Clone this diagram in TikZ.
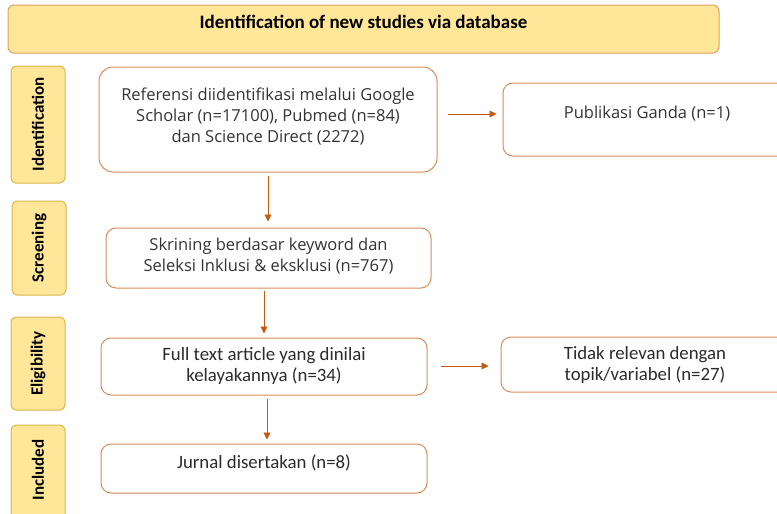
\documentclass[tikz,border=0pt]{standalone}
\usepackage{fontspec}
\setmainfont{Open Sans}
\newfontfamily\calib{Carlito}
\usetikzlibrary{arrows.meta}
\definecolor{boxline}{HTML}{D98C57}
\definecolor{arrowc}{HTML}{C55A11}
\definecolor{sidefill}{HTML}{FFE699}
\definecolor{sideline}{HTML}{D9B54A}
\definecolor{headline}{HTML}{E0A060}
\definecolor{txt}{HTML}{333333}
\tikzset{
  x=1pt,y=-1pt,
  mainbox/.style={draw=boxline,line width=1pt,rounded corners=10pt,fill=white,inner sep=0pt},
  sidebox/.style={draw=sideline,line width=1pt,rounded corners=5pt,fill=sidefill,inner sep=0pt,rotate=90,
    font=\calib\bfseries\fontsize{17}{18}\selectfont,text=black},
  headbox/.style={draw=headline,line width=1pt,rounded corners=6pt,fill=sidefill,inner sep=0pt},
  flow/.style={draw=arrowc,line width=0.9pt,-{Triangle[length=7pt,width=7pt]}},
  segtext/.style={font=\fontsize{16.5}{21}\selectfont,text=txt,align=center},
  caltext/.style={font=\calib\fontsize{18.8}{21}\selectfont,text=txt!85!black,align=center}
}
\begin{document}
\begin{tikzpicture}
\useasboundingbox (0,0) rectangle (777,514);
% header
\node[headbox,minimum width=711pt,minimum height=48pt] (head) at (363.5,29) {};
\node[font=\calib\bfseries\fontsize{19}{20}\selectfont] (headtxt) at ([yshift=7pt]head.center) {Identification of new studies via database};
% side labels
\node[sidebox,minimum width=117pt,minimum height=54pt] (sid) at (38,124.5) {Identification};
\node[sidebox,minimum width=94pt,minimum height=54pt] (sscr) at (39,248) {Screening};
\node[sidebox,minimum width=93pt,minimum height=54pt] (sel) at (38,363.5) {Eligibility};
\node[sidebox,minimum width=97pt,minimum height=54pt] (sinc) at (38,473.5) {};
\node[font=\calib\bfseries\fontsize{17}{18}\selectfont,rotate=90] (sinctxt) at (38,470) {Included};
% main boxes
\node[mainbox,rounded corners=14pt,minimum width=338pt,minimum height=105pt] (ref) at (268,119.5) {};
\node[segtext] (reftxt) at ([yshift=3.5pt]ref.center) {Referensi diidentifikasi melalui Google\\Scholar (n=17100), Pubmed (n=84)\\dan Science Direct (2272)};
\node[mainbox,minimum width=297pt,minimum height=73pt] (pub) at (651.5,119.5) {};
\node[segtext] (pubtxt) at (647,114) {Publikasi Ganda (n=1)};
\node[mainbox,minimum width=325pt,minimum height=60pt] (skr) at (268.5,258) {};
\node[segtext] (skrtxt) at ([yshift=2pt]skr.center) {Skrining berdasar keyword dan\\Seleksi Inklusi \& eksklusi (n=767)};
\node[mainbox,minimum width=326pt,minimum height=57pt] (ful) at (264,366.5) {};
\node[caltext] (fultxt) at ([yshift=1pt]ful.center) {Full text article yang dinilai\\kelayakannya (n=34)};
\node[mainbox,minimum width=299pt,minimum height=55pt] (tid) at (650.5,364.5) {};
\node[caltext] (tidtxt) at (645,365) {Tidak relevan dengan\\topik/variabel (n=27)};
\node[mainbox,minimum width=326pt,minimum height=49pt] (jur) at (264,468.5) {};
\node[caltext] (jurtxt) at ([yshift=5.5pt]jur.center) {Jurnal disertakan (n=8)};
% arrows
\draw[flow,shorten <=3pt,shorten >=6pt] (ref.south) -- (ref.south |- skr.north);
\draw[flow,shorten <=2pt,shorten >=4pt] (skr.south -| ful.north) -- (ful.north);
\draw[flow,shorten <=3pt,shorten >=4pt] ([xshift=3pt]ful.south) -- ([xshift=3pt]jur.north);
\draw[flow,shorten <=10pt,shorten >=6pt] ([yshift=5.5pt]ref.east) -- ([yshift=5.5pt]pub.west);
\draw[flow,shorten <=13pt,shorten >=12pt] ([yshift=0.5pt]ful.east) -- ([yshift=0.5pt]ful.east -| tid.west);
\end{tikzpicture}
\end{document}
